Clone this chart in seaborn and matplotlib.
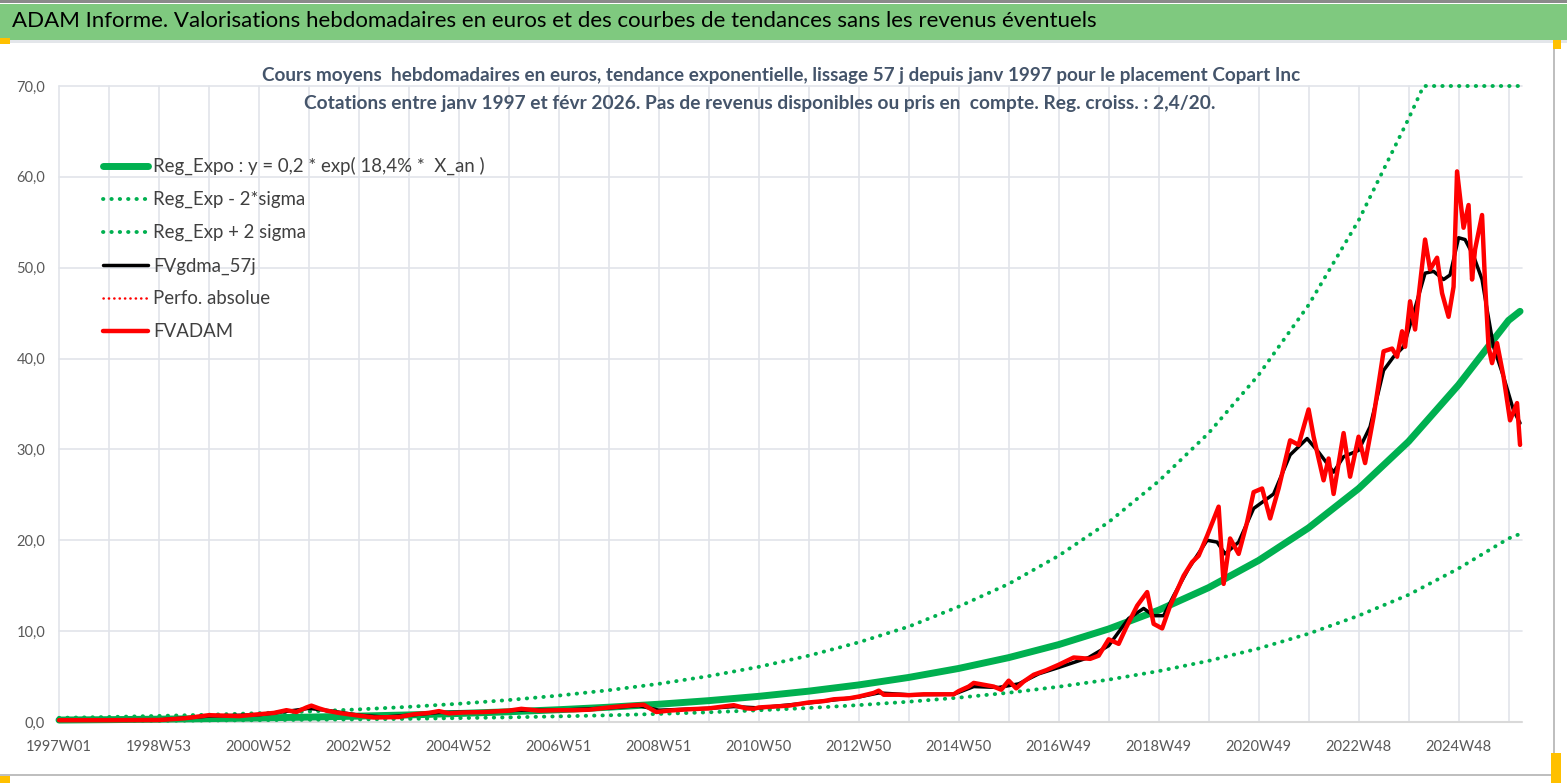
#%%
import numpy as np
import pandas as pd
import matplotlib
matplotlib.use("Agg")
import matplotlib.pyplot as plt
from matplotlib.patches import Rectangle
import seaborn as sns

#%% Donnees (annees depuis 1997W01, 1 an = 52 semaines)
annees_tendance = [0, 1, 2, 3, 4, 5, 6, 7, 8, 9, 10, 11, 12, 13, 14, 15, 16, 17, 18, 19,
                   20, 21, 22, 23, 24, 25, 26, 27, 28, 29, 29.23]
reg_expo = [0.215, 0.258, 0.311, 0.373, 0.449, 0.539, 0.648, 0.779, 0.937, 1.126, 1.353,
            1.627, 1.955, 2.350, 2.825, 3.395, 4.081, 4.905, 5.895, 7.086, 8.518, 10.24,
            12.31, 14.79, 17.78, 21.37, 25.69, 30.87, 37.11, 44.2, 45.2]
reg_moins = [0.10, 0.12, 0.14, 0.17, 0.20, 0.25, 0.29, 0.35, 0.43, 0.51, 0.62, 0.74, 0.89,
             1.07, 1.29, 1.54, 1.86, 2.23, 2.68, 3.22, 3.88, 4.66, 5.60, 6.73, 8.09, 9.72,
             11.7, 14.0, 16.9, 20.2, 20.7]
annees_plus = [0, 1, 2, 3, 4, 5, 6, 7, 8, 9, 10, 11, 12, 13, 14, 15, 16, 17, 18, 19,
               20, 21, 22, 23, 24, 25, 26, 27, 27.3, 28, 29, 29.23]
reg_plus = [0.46, 0.55, 0.67, 0.80, 0.97, 1.16, 1.39, 1.67, 2.01, 2.42, 2.91, 3.50, 4.20,
            5.05, 6.07, 7.30, 8.77, 10.5, 12.7, 15.2, 18.3, 22.0, 26.5, 31.8, 38.2, 45.9,
            55.2, 66.4, 70.0, 70.0, 70.0, 70.0]

annees_adam = [0, 1, 2, 2.5, 3.0, 3.3, 3.6, 4.0, 4.3, 4.55, 4.75, 4.95, 5.05, 5.2, 5.35,
               5.6, 6.0, 6.3, 6.8, 7.1, 7.4, 7.6, 7.8, 8.1, 8.5, 9.0, 9.25, 9.6, 10.0, 10.3,
               10.6, 11.0, 11.3, 11.5, 11.7, 11.85, 11.95, 12.2, 12.6, 13.0, 13.5, 13.75,
               13.9, 14.0, 14.3, 14.6, 15.0, 15.3, 15.5, 15.8, 16.0, 16.3, 16.4, 16.5, 16.8,
               17.0, 17.3, 17.6, 17.9, 18.0, 18.2, 18.3, 18.5, 18.7, 18.85, 19.0, 19.15,
               19.3, 19.5, 19.75, 20.0, 20.3, 20.63, 20.8, 21.0, 21.2, 21.35, 21.57, 21.77,
               21.9, 22.07, 22.23, 22.5, 22.67, 22.8, 22.97, 23.2, 23.3, 23.43, 23.6, 23.77,
               23.9, 24.07, 24.23, 24.4, 24.63, 24.8, 25.0, 25.1, 25.3, 25.4, 25.5, 25.7,
               25.83, 26.0, 26.13, 26.3, 26.5, 26.67, 26.77, 26.87, 26.93, 27.03, 27.13,
               27.2, 27.33, 27.43, 27.57, 27.67, 27.8, 27.9, 27.97, 28.1, 28.2, 28.27, 28.33,
               28.47, 28.53, 28.6, 28.67, 28.77, 28.9, 29.03, 29.17, 29.23]
fvadam = [0.2, 0.2, 0.22, 0.4, 0.75, 0.7, 0.65, 0.85, 1.0, 1.3, 1.1, 1.6, 1.8, 1.5, 1.25,
          1.0, 0.7, 0.5, 0.55, 0.85, 1.0, 1.2, 0.95, 1.05, 1.1, 1.25, 1.45, 1.25, 1.3, 1.3,
          1.35, 1.6, 1.75, 1.85, 1.9, 1.4, 1.1, 1.25, 1.4, 1.5, 1.85, 1.5, 1.45, 1.6, 1.7,
          1.8, 2.15, 2.3, 2.5, 2.6, 2.8, 3.2, 3.45, 3.0, 3.0, 2.95, 3.05, 3.05, 3.05, 3.4,
          3.9, 4.3, 4.1, 3.9, 3.55, 4.55, 3.7, 4.45, 5.2, 5.7, 6.3, 7.1, 6.95, 7.3, 9.1, 8.6,
          10.4, 12.8, 14.3, 10.8, 10.3, 12.8, 16.1, 17.6, 18.3, 20.5, 23.7, 15.2, 20.2, 18.5,
          22.0, 25.3, 25.7, 22.4, 25.7, 31.0, 30.5, 34.4, 31.4, 26.6, 29.0, 25.1, 31.8, 27.0,
          31.4, 28.5, 33.6, 40.8, 41.1, 40.2, 43.0, 41.3, 46.3, 43.2, 46.8, 53.1, 49.8, 51.1,
          47.2, 44.6, 47.9, 60.6, 54.4, 56.9, 48.7, 52.0, 55.8, 48.3, 41.3, 39.5, 41.7, 38.0,
          33.2, 35.1, 30.5]

annees_gdma = [0, 2, 3, 4, 4.6, 5.0, 5.4, 6.0, 6.5, 7.0, 7.6, 8.5, 9.2, 10, 11, 11.6, 12,
               13, 13.5, 14, 15, 16, 16.4, 17, 17.9, 18.3, 18.8, 19.2, 19.6, 20, 20.6, 21,
               21.4, 21.7, 21.9, 22.1, 22.3, 22.6, 22.97, 23.17, 23.33, 23.6, 23.9, 24.3,
               24.63, 24.97, 25.2, 25.5, 25.7, 26.0, 26.23, 26.5, 26.7, 26.9, 27.1, 27.33,
               27.5, 27.7, 27.83, 28.0, 28.13, 28.3, 28.47, 28.57, 28.7, 28.9, 29.1, 29.23]
fvgdma = [0.2, 0.22, 0.65, 0.8, 1.2, 1.5, 1.25, 0.75, 0.55, 0.75, 1.05, 1.1, 1.3, 1.3, 1.55,
          1.8, 1.3, 1.5, 1.7, 1.55, 2.1, 2.75, 3.2, 3.0, 3.05, 3.9, 3.8, 4.2, 5.3, 6.0, 7.1,
          8.4, 11.4, 12.5, 11.7, 11.7, 13.9, 16.9, 20.0, 19.8, 18.5, 19.8, 23.5, 25.1, 29.4,
          31.2, 29.7, 27.5, 29.2, 29.9, 32.5, 38.7, 40.2, 41.3, 45.0, 49.4, 49.6, 48.7, 49.2,
          53.3, 53.1, 51.3, 48.7, 45.4, 41.3, 38.0, 34.3, 32.9]

etiquettes_x = ["1997W01", "1998W53", "2000W52", "2002W52", "2004W52", "2006W51",
                "2008W51", "2010W50", "2012W50", "2014W50", "2016W49", "2018W49",
                "2020W49", "2022W48", "2024W48"]
etiquettes_y = ["0,0", "10,0", "20,0", "30,0", "40,0", "50,0", "60,0", "70,0"]

# semaines (axe de categories hebdomadaire)
def semaines(a):
    return np.array(a) * 52

#%% Figure
sns.set_style("white")
plt.rcParams["font.family"] = ["Lato", "DejaVu Sans"]

W, H = 1567, 783
fig = plt.figure(figsize=(W / 100, H / 100), dpi=100)
ax = fig.add_axes([59 / W, 1 - 722 / H, (1522 - 59) / W, (722 - 86) / H])

# bandeau vert et cadre
def rect(x, y, w, h, c, z=0):
    fig.patches.append(Rectangle((x / W, 1 - (y + h) / H), w / W, h / H,
                                 transform=fig.transFigure, facecolor=c,
                                 edgecolor="none", zorder=z))

rect(0, 4, W, 36, "#7FC97F")
rect(0, 0, W, 3, "#8A8A8A")
rect(0, 40, W, 3, "#E3E6EA")
rect(0, 38, 10, 6, "#FFC000", 1)
rect(1553, 43, 2, 732, "#BFBFBF")
rect(1553, 40, 8, 9, "#FFC000", 1)
rect(0, 774, 1553, 2, "#BFBFBF")
rect(0, 776, 10, 7, "#FFC000", 1)
rect(1551, 753, 10, 30, "#FFC000", 1)

fig.text(12 / W, 1 - 21 / H,
         "ADAM Informe. Valorisations hebdomadaires en euros et des courbes de tendances sans les revenus éventuels",
         fontsize=16, color="black", va="center", ha="left")

# titre du graphique
couleur_titre = "#44546A"
fig.text(781 / W, 1 - 76 / H,
         "Cours moyens  hebdomadaires en euros, tendance exponentielle, lissage 57 j depuis janv 1997 pour le placement Copart Inc",
         fontsize=13.6, fontweight="bold", color=couleur_titre, ha="center", va="center")
fig.text(760 / W, 1 - 103 / H,
         "Cotations entre janv 1997 et févr 2026. Pas de revenus disponibles ou pris en  compte. Reg. croiss. : 2,4/20.",
         fontsize=13.8, fontweight="bold", color=couleur_titre, ha="center", va="center")

# grille
for s in range(0, 1509, 52):
    ax.axvline(s, color="#E1E4EA", linewidth=1.2, zorder=0)
for v in range(10, 71, 10):
    ax.axhline(v, color="#E1E4EA", linewidth=1.2, zorder=0)
ax.axhline(0, color="#D9D9D9", linewidth=1.5, zorder=0)

vert = "#00B050"
pointille = (0, (0.1, 2.05))

sns.lineplot(x=semaines(annees_tendance), y=reg_expo, ax=ax, color=vert, linewidth=5,
             label="Reg_Expo : y = 0,2 * exp( 18,4% *  X_an )", zorder=3)
sns.lineplot(x=semaines(annees_tendance), y=reg_moins, ax=ax, color=vert, linewidth=2.8,
             linestyle=pointille, label="Reg_Exp - 2*sigma", zorder=3)
sns.lineplot(x=semaines(annees_plus), y=reg_plus, ax=ax, color=vert, linewidth=2.8,
             linestyle=pointille, label="Reg_Exp + 2 sigma", zorder=3)
sns.lineplot(x=semaines(annees_gdma), y=fvgdma, ax=ax, color="black", linewidth=2.5,
             label="FVgdma_57j", zorder=4)
sns.lineplot(x=semaines(annees_adam), y=fvadam, ax=ax, color="#FF0000", linewidth=1.8,
             linestyle=pointille, label="Perfo. absolue", zorder=4)
sns.lineplot(x=semaines(annees_adam), y=fvadam, ax=ax, color="#FF0000", linewidth=3.2,
             label="FVADAM", zorder=5)

for ln in ax.lines:
    ln.set_dash_capstyle("round")
    ln.set_solid_joinstyle("round")
    ln.set_clip_on(False)

ax.set_xlim(0, 1522)
ax.set_ylim(0, 70)
ax.set_xticks(np.arange(0, 1457, 104))
ax.set_xticklabels(etiquettes_x)
ax.set_yticks(np.arange(0, 71, 10))
ax.set_yticklabels(etiquettes_y)
ax.tick_params(axis="both", length=0, labelsize=10.5, colors="#595959")
ax.tick_params(axis="x", pad=13)
ax.tick_params(axis="y", pad=10)
for sp in ax.spines.values():
    sp.set_visible(False)
ax.set_xlabel("")
ax.set_ylabel("")

leg = ax.legend(loc="upper left", bbox_to_anchor=(103 / W, 1 - 157 / H),
                bbox_transform=fig.transFigure, frameon=False, fontsize=13.4,
                handlelength=2.4, handletextpad=0.3, labelspacing=0.85,
                borderpad=0, borderaxespad=0)
for t in leg.get_texts():
    t.set_color("#404040")

fig.savefig("out.png", dpi=100, facecolor="white")
